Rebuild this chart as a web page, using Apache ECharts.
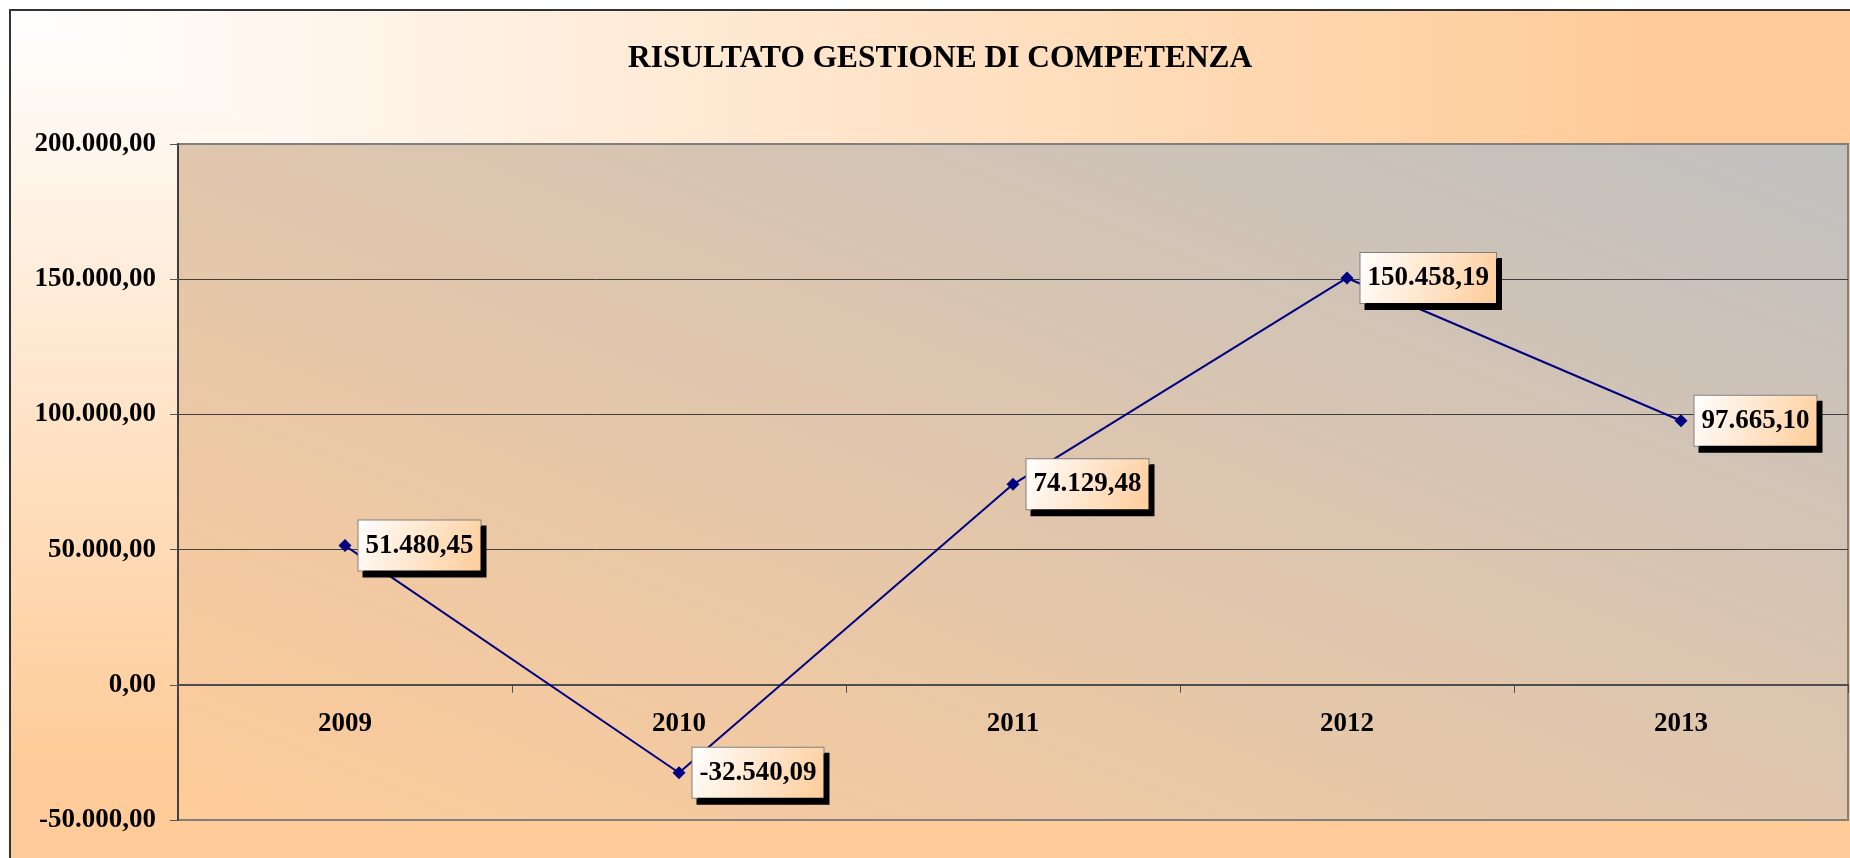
<!DOCTYPE html>
<html>
<head>
<meta charset="utf-8">
<title>Risultato gestione di competenza</title>
<script src="https://cdn.jsdelivr.net/npm/echarts@6.0.0/dist/echarts.min.js"></script>
<style>
    html, body { margin: 0; padding: 0; background: #ffffff; }
    #risultato_chart { width: 1850px; height: 858px; }
</style>
</head>
<body>
<div id="risultato_chart"></div>
<script>
    // dati
    var anni_list = ['2009', '2010', '2011', '2012', '2013'];
    var risultato_list = [51480.45, -32540.09, 74129.48, 150458.19, 97665.10];
    var asse_min = -50000;
    var asse_max = 200000;
    var asse_passo = 50000;

    var PESCA = '#FFCC99';
    var FONT = 'Liberation Serif';
    var GRID_BOTTOM = 38;

    // 12345.6 -> 12.345,60
    function formato_it(v){
        var parti = Math.abs(v).toFixed(2).split('.');
        var intero = parti[0].replace(/\B(?=(\d{3})+(?!\d))/g, '.');
        return (v < 0 ? '-' : '') + intero + ',' + parti[1];
    }

    var myChart = echarts.init(document.getElementById('risultato_chart'));

    var option = {
        backgroundColor: '#ffffff',
        animation: false,
        graphic: [
            {   // sfondo "dall'angolo": meta' in alto a destra
                type: 'polygon', z: -5, silent: true,
                shape: { points: [[10, 10], [1851, 10], [1851, 859]] },
                style: {
                    fill: { type: 'linear', x: 0, y: 0, x2: 1, y2: 0,
                        colorStops: [{ offset: 0, color: '#ffffff' }, { offset: 0.88, color: PESCA }] }
                }
            },
            {   // meta' in basso a sinistra
                type: 'polygon', z: -5, silent: true,
                shape: { points: [[10, 10], [10, 859], [1851, 859], [1851, 858]] },
                style: {
                    fill: { type: 'linear', x: 0, y: 0, x2: 0, y2: 1,
                        colorStops: [{ offset: 0, color: '#ffffff' }, { offset: 0.88, color: PESCA }] }
                }
            },
            {
                type: 'rect', z: 20, silent: true,
                shape: { x: 10, y: 10, width: 1900, height: 900 },
                style: { fill: null, stroke: '#333333', lineWidth: 2 }
            }
        ],
        title: {
            text: 'RISULTATO GESTIONE DI COMPETENZA',
            left: 623,
            top: 38,
            textStyle: { fontFamily: FONT, fontSize: 31.4, fontWeight: 'bold', color: '#000000' }
        },
        grid: {
            left: 178,
            top: 144,
            right: 2,
            bottom: GRID_BOTTOM,
            containLabel: false,
            outerBoundsMode: 'none',
            show: true,
            borderColor: '#808080',
            borderWidth: 2,
            backgroundColor: {
                type: 'linear', x: 0, y: 1, x2: 0.2816, y2: -0.7185,
                colorStops: [{ offset: 0, color: PESCA }, { offset: 1, color: '#C0C0C0' }]
            }
        },
        xAxis: {
            type: 'category',
            data: anni_list,
            boundaryGap: true,
            offset: 0,
            axisLine: { onZero: false, lineStyle: { color: '#4d4d4d', width: 2 } },
            axisTick: { show: true, length: 8, lineStyle: { color: '#4d4d4d', width: 1 } },
            axisLabel: { margin: 26, fontFamily: FONT, fontSize: 27, fontWeight: 'bold', color: '#000000' },
            splitLine: { show: false }
        },
        yAxis: {
            type: 'value',
            min: asse_min,
            max: asse_max,
            interval: asse_passo,
            axisLine: { show: true, lineStyle: { color: '#404040', width: 2 } },
            axisTick: { show: true, length: 8, lineStyle: { color: '#555555', width: 1 } },
            axisLabel: {
                margin: 22, fontFamily: FONT, fontSize: 27, fontWeight: 'bold', color: '#000000',
                formatter: function (v) { return formato_it(v); }
            },
            splitLine: { show: true, showMinLine: false, showMaxLine: false,
                lineStyle: { color: '#404040', width: 1 } }
        },
        series: [
            {
                name: 'Risultato',
                type: 'line',
                data: risultato_list,
                symbol: 'diamond',
                symbolSize: 13,
                lineStyle: { color: '#000080', width: 2 },
                itemStyle: { color: '#000080' },
                label: {
                    show: true,
                    position: 'right',
                    distance: 7,
                    formatter: function (p) { return formato_it(p.value); },
                    fontFamily: FONT,
                    fontSize: 27,
                    fontWeight: 'bold',
                    color: '#000000',
                    lineHeight: 30,
                    padding: [10, 7, 10, 7],
                    backgroundColor: {
                        type: 'linear', x: 0, y: 0, x2: 1, y2: 1,
                        colorStops: [{ offset: 0, color: '#ffffff' }, { offset: 1, color: PESCA }]
                    },
                    borderColor: '#808080',
                    borderWidth: 1,
                    shadowColor: '#000000',
                    shadowBlur: 0,
                    shadowOffsetX: 5,
                    shadowOffsetY: 6
                }
            }
        ]
    };
    myChart.setOption(option);

    // l'asse delle categorie va portato sulla linea dello zero (etichette comprese)
    var zero_y = myChart.convertToPixel({ yAxisIndex: 0 }, 0);
    var fondo_y = myChart.convertToPixel({ yAxisIndex: 0 }, asse_min);
    myChart.setOption({ xAxis: { offset: -(fondo_y - zero_y) } });
</script>
</body>
</html>
